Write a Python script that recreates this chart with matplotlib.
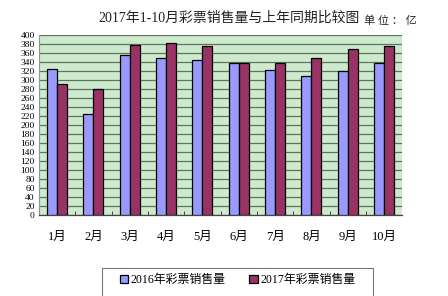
import matplotlib
matplotlib.use("Agg")
import matplotlib.pyplot as plt
from matplotlib.patches import Rectangle
import numpy as np

plt.rcParams['font.family'] = ['Liberation Serif', 'Noto Sans CJK SC']

months = ["1月", "2月", "3月", "4月", "5月", "6月", "7月", "8月", "9月", "10月"]
sales_2016 = [325, 224, 356, 349, 345, 339, 323, 310, 320, 338]
sales_2017 = [291, 280, 378, 382, 376, 338, 338, 350, 369, 376]
series_names = ["2016年彩票销售量", "2017年彩票销售量"]
y_ticks = list(range(0, 401, 20))

fig = plt.figure(figsize=(4.48, 2.96), dpi=100)
ax = fig.add_axes([0.087, 0.273, 0.811, 0.608])
ax.set_facecolor("#cdeacd")

x = np.arange(len(months))
w = 0.275
ax.bar(x - w / 2, sales_2016, w, color="#9999ff", edgecolor="black",
       linewidth=0.9, label=series_names[0], zorder=3)
ax.bar(x + w / 2, sales_2017, w, color="#993366", edgecolor="black",
       linewidth=0.9, label=series_names[1], zorder=3)

ax.set_xlim(-0.5, len(months) - 0.5)
ax.set_ylim(0, 400)
ax.set_yticks(y_ticks)
ax.set_yticklabels([str(v) for v in y_ticks], fontsize=6.8)
ax.tick_params(axis="y", length=0, pad=3)
ax.yaxis.grid(True, color="#5f735f", linewidth=0.9, zorder=1)

ax.set_xticks(x)
ax.set_xticklabels(months, fontsize=9)
ax.tick_params(axis="x", length=0, pad=11)
ax.set_xticks(np.arange(0.5, len(months) - 0.5, 1), minor=True)
ax.tick_params(axis="x", which="minor", direction="in", length=3,
               color="#444444", width=0.7)

for side in ["top", "right"]:
    ax.spines[side].set_visible(False)
ax.spines["left"].set_color("#8a9a8a")
ax.spines["left"].set_linewidth(0.8)
ax.spines["bottom"].set_color("#444444")
ax.spines["bottom"].set_linewidth(0.9)

fig.text(0.511, 0.940, "2017年1-10月彩票销售量与上年同期比较图",
         ha="center", va="center", fontsize=10, color="#222222")
fig.text(0.812, 0.930, "单 位 ： 亿", ha="left", va="center",
         fontsize=8, color="#222222")

# legend box runs off the bottom edge of the figure
fig.patches.append(Rectangle((102 / 448, -0.05), (373 - 102) / 448,
                             0.05 + (296 - 268) / 296,
                             transform=fig.transFigure, fill=False,
                             edgecolor="#777777", linewidth=0.8))
leg = fig.legend(loc="center", bbox_to_anchor=(0.53, 1 - 280 / 296),
                 ncol=2, fontsize=8.6, frameon=False,
                 handlelength=0.7, handleheight=0.7, handletextpad=0.2,
                 columnspacing=2.0, borderpad=0, borderaxespad=0)

fig.savefig("out.png", dpi=100)
